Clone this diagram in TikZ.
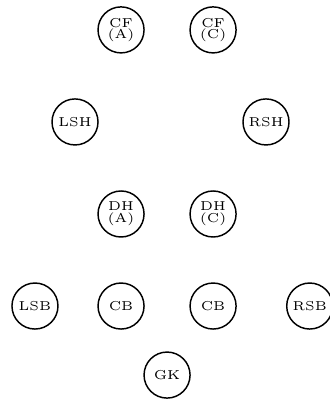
\documentclass[tikz,border=0pt]{standalone}
\usepackage{tikz}

\begin{document}
\begin{tikzpicture}[player/.style={circle,draw,line width=0.9pt,minimum size=0.625cm,
    inner sep=0pt,font=\tiny,align=center,scale=1.6}]
            \useasboundingbox (-3.63,-0.52) rectangle (3.52,8.15);
            \draw (0,0) node[player] (GK) {GK};
            \draw (-2.87,1.5) node[player] (LSB) {LSB};
            \draw (-1,1.5) node[player] (LCB) {CB};
            \draw (1,1.5) node[player] (RCB) {CB};
            \draw (3.1,1.5) node[player] (RSB) {RSB};
            \draw (-1,3.5) node[player] (DHA) {DH\\[-1.5pt](A)};
            \draw (1,3.5) node[player] (DHC) {DH\\[-1.5pt](C)};
            \draw (-2,5.5) node[player] (LSH) {LSH};
            \draw (2.15,5.5) node[player] (RSH) {RSH};
            \draw (-1,7.5) node[player] (CFA) {CF\\[-1.5pt](A)};
            \draw (1,7.5) node[player] (CFC) {CF\\[-1.5pt](C)};
\end{tikzpicture}
\end{document}
